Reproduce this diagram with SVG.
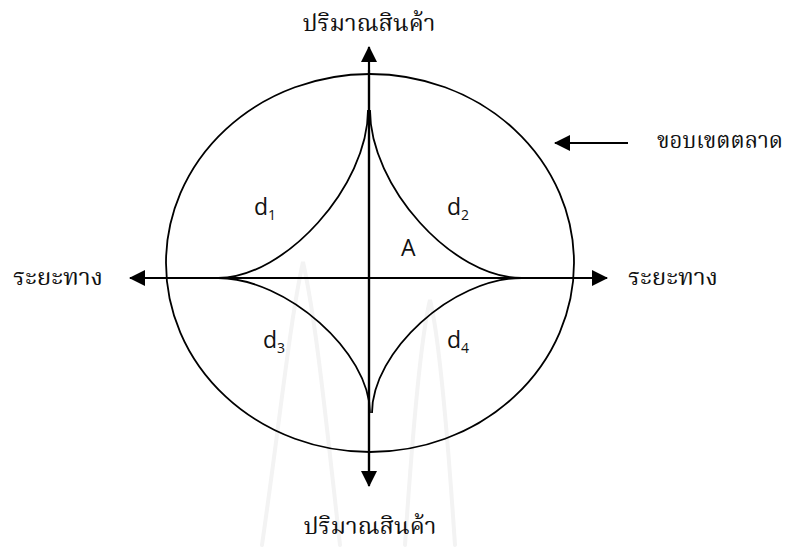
<svg xmlns="http://www.w3.org/2000/svg" width="798" height="547" viewBox="0 0 798 547">
<defs>
<style>
.thai{font-family:"Noto Serif Thai","Noto Sans Thai","Tlwg Typo","Norasi","Loma","Garuda",serif;font-size:23px;fill:#111}
.lab{font-family:"Open Sans","Noto Sans",sans-serif;font-size:23px;fill:#111}
.sub{font-size:14px}
.ax{stroke:#000;stroke-width:2.2;fill:none}
.cv{stroke:#000;stroke-width:1.8;fill:none}
.wm{stroke:#f3f3f3;stroke-width:4;fill:none;stroke-linecap:round}
</style>
<marker id="ah" viewBox="0 0 16 16" refX="15" refY="8" markerWidth="16" markerHeight="16" markerUnits="userSpaceOnUse" orient="auto">
<path d="M0,0 L16,8 L0,16 Z" fill="#000"/>
</marker>
</defs>
<rect width="798" height="547" fill="#fff"/>
<g id="watermark">
<path class="wm" d="M262,545 C280,420 290,320 303,262 C316,320 326,420 340,545"/>
<path class="wm" d="M405,545 C412,440 420,340 430,300 C440,340 448,440 455,545"/>
</g>
<g id="market-boundary">
<ellipse cx="370" cy="263" rx="204" ry="189" fill="none" stroke="#000" stroke-width="1.8"/>
</g>
<g id="curves">
<path id="c1" class="cv" d="M218,278 C285,278 368,186 368,110"/>
<path id="c2" class="cv" d="M522,278 C452,278 370,186 370,110"/>
<path id="c3" class="cv" d="M218,278 C286,278 370,352 370,413"/>
<path id="c4" class="cv" d="M522,278 C452,278 372,352 372,413"/>
</g>
<g id="connectors">
<line class="ax" x1="369" y1="484" x2="369" y2="47" marker-end="url(#ah)"/>
<line class="ax" x1="369" y1="70" x2="369" y2="486" marker-end="url(#ah)"/>
<line class="ax" x1="606" y1="278" x2="130" y2="278" marker-end="url(#ah)"/>
<line class="ax" x1="140" y1="278" x2="607" y2="278" marker-end="url(#ah)"/>
<line class="ax" x1="628" y1="143" x2="555" y2="143" marker-end="url(#ah)"/>
</g>
<g id="label-qty-top"><text class="thai" x="369" y="31" text-anchor="middle" textLength="133" lengthAdjust="spacingAndGlyphs">ปริมาณสินค้า</text></g>
<g id="label-qty-bottom"><text class="thai" x="370" y="534" text-anchor="middle" textLength="133" lengthAdjust="spacingAndGlyphs">ปริมาณสินค้า</text></g>
<g id="label-dist-left"><text class="thai" x="13" y="285" textLength="90" lengthAdjust="spacingAndGlyphs">ระยะทาง</text></g>
<g id="label-dist-right"><text class="thai" x="628" y="285" textLength="90" lengthAdjust="spacingAndGlyphs">ระยะทาง</text></g>
<g id="label-boundary"><text class="thai" x="657" y="148" textLength="126" lengthAdjust="spacingAndGlyphs">ขอบเขตตลาด</text></g>
<g id="d1"><text class="lab" x="254" y="215">d<tspan class="sub" dy="5">1</tspan></text></g>
<g id="d2"><text class="lab" x="447" y="215">d<tspan class="sub" dy="5">2</tspan></text></g>
<g id="A"><text class="lab" x="401" y="256">A</text></g>
<g id="d3"><text class="lab" x="263" y="348">d<tspan class="sub" dy="5">3</tspan></text></g>
<g id="d4"><text class="lab" x="447" y="348">d<tspan class="sub" dy="5">4</tspan></text></g>
</svg>
